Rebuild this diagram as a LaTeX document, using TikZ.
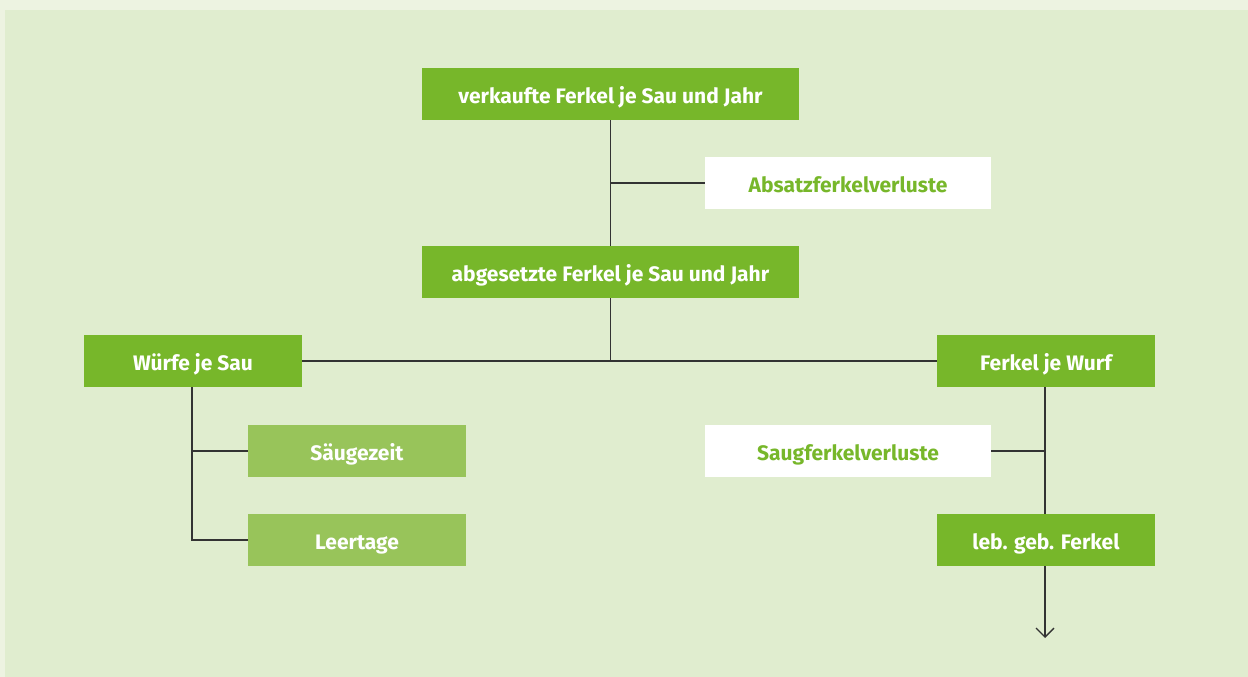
\documentclass[tikz,border=0pt]{standalone}
\usepackage{fontspec}
\setmainfont{Fira Sans}
\usetikzlibrary{arrows.meta}
\definecolor{outerbg}{HTML}{EDF3E1}
\definecolor{innerbg}{HTML}{E0EDCF}
\definecolor{dgreen}{HTML}{77B72A}
\definecolor{lgreen}{HTML}{98C45A}
\definecolor{linec}{HTML}{333333}
\tikzset{
  box/.style={minimum height=52pt, inner sep=0pt, text height=18pt, text depth=0pt,
    font=\fontsize{21}{24}\selectfont\bfseries},
  darkbox/.style={box, fill=dgreen, text=white},
  lightbox/.style={box, fill=lgreen, text=white},
  whitebox/.style={box, fill=white, text=dgreen},
  conn/.style={draw=linec, line width=1.3pt},
}
\begin{document}
\begin{tikzpicture}[x=1pt,y=-1pt]
\useasboundingbox (0,0) rectangle (1248,677);
\fill[outerbg] (0,0) rectangle (1248,677);
\fill[innerbg] (5,10) rectangle (1248,677);

\node[darkbox, minimum width=377pt] (verk) at (610.5,94) {verkaufte Ferkel je Sau und Jahr};
\node[whitebox, minimum width=286pt] (absatz) at (848,183) {Absatzferkelverluste};
\node[darkbox, minimum width=377pt] (abges) at (610.5,272) {abgesetzte Ferkel je Sau und Jahr};
\node[darkbox, minimum width=218pt] (wuerfe) at (193,361) {Würfe je Sau};
\node[darkbox, minimum width=218pt] (fjw) at (1046,361) {Ferkel je Wurf};
\node[lightbox, minimum width=218pt] (saeuge) at (357,451) {Säugezeit};
\node[lightbox, minimum width=218pt] (leer) at (357,540) {Leertage};
\node[whitebox, minimum width=286pt] (saugf) at (848,451) {Saugferkelverluste};
\node[darkbox, minimum width=218pt] (leb) at (1046,540) {leb. geb. Ferkel};

\coordinate (j1) at (610.5,183);
\coordinate (j2) at (610.5,361);
\coordinate (w1) at (192,451);
\coordinate (w2) at (192,540);
\coordinate (f1) at (1045,451);
\coordinate (endarr) at (1045,638);

\draw[conn] (verk.south) -- (abges.north);
\draw[conn] (j1) -- (absatz.west);
\draw[conn] (abges.south) -- (j2);
\draw[conn] (wuerfe.east) -- (fjw.west);
\draw[conn] (192,387) -- (w2) -- (leer.west);
\draw[conn] (w1) -- (saeuge.west);
\draw[conn] (1045,387) -- (1045,514);
\draw[conn] (f1) -- (saugf.east);
\draw[conn, -{Straight Barb[length=9pt,width=18pt,line width=1.3pt]}] (1045,566) -- (endarr);
\end{tikzpicture}
\end{document}
